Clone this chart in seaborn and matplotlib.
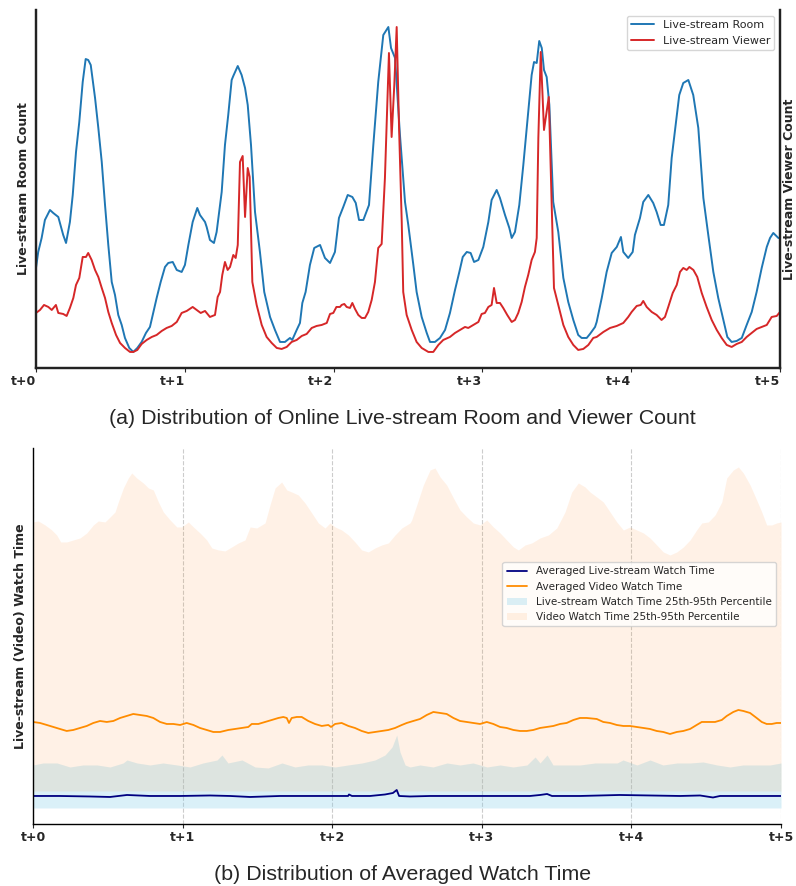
import matplotlib
matplotlib.use("Agg")
import matplotlib.pyplot as plt
import pandas as pd
import seaborn as sns

# ── Data (arbitrary units) ────────────────────────────────────────────────────
tick_pos = [0, 1, 2, 3, 4, 5]
tick_labels = ["t+0", "t+1", "t+2", "t+3", "t+4", "t+5"]

room_t = [0.000, 0.015, 0.038, 0.060, 0.094, 0.116, 0.150, 0.183, 0.202, 0.228,
          0.247, 0.269, 0.291, 0.314, 0.334, 0.351, 0.368, 0.397, 0.419, 0.442,
          0.464, 0.486, 0.509, 0.531, 0.553, 0.576, 0.598, 0.627, 0.654, 0.681,
          0.710, 0.739, 0.766, 0.788, 0.811, 0.838, 0.867, 0.889, 0.919, 0.946,
          0.979, 1.001, 1.024, 1.053, 1.084, 1.102, 1.136, 1.147, 1.169, 1.196,
          1.214, 1.237, 1.248, 1.270, 1.292, 1.315, 1.326, 1.356, 1.382, 1.405,
          1.423, 1.445, 1.472, 1.505, 1.534, 1.573, 1.606, 1.640, 1.673, 1.707,
          1.722, 1.752, 1.774, 1.790, 1.812, 1.841, 1.870, 1.909, 1.942, 1.976,
          2.009, 2.036, 2.065, 2.095, 2.126, 2.149, 2.171, 2.200, 2.238, 2.267,
          2.300, 2.334, 2.368, 2.386, 2.413, 2.446, 2.480, 2.502, 2.536, 2.558,
          2.592, 2.626, 2.648, 2.681, 2.715, 2.749, 2.782, 2.816, 2.845, 2.868,
          2.895, 2.921, 2.944, 2.973, 3.006, 3.040, 3.062, 3.096, 3.118, 3.152,
          3.181, 3.197, 3.219, 3.248, 3.275, 3.308, 3.331, 3.347, 3.365, 3.382,
          3.399, 3.414, 3.432, 3.450, 3.476, 3.510, 3.544, 3.577, 3.611, 3.644,
          3.667, 3.701, 3.723, 3.757, 3.768, 3.802, 3.835, 3.869, 3.903, 3.931,
          3.947, 3.980, 4.010, 4.025, 4.059, 4.081, 4.115, 4.148, 4.171, 4.198,
          4.220, 4.249, 4.272, 4.301, 4.323, 4.350, 4.384, 4.417, 4.451, 4.485,
          4.518, 4.552, 4.585, 4.619, 4.646, 4.675, 4.709, 4.743, 4.776, 4.810,
          4.843, 4.877, 4.911, 4.933, 4.955, 4.989, 5.000]
room_count = [100, 116, 130, 148, 158, 155, 151, 133, 125, 146,
              173, 216, 246, 286, 309, 308, 303, 270, 240, 206,
              163, 123, 86, 73, 53, 43, 30, 20, 16, 20,
              26, 35, 41, 55, 70, 86, 101, 105, 106, 98,
              96, 103, 123, 146, 160, 153, 146, 141, 128, 125,
              136, 163, 176, 223, 253, 288, 292, 302, 293, 280,
              263, 223, 156, 116, 76, 51, 38, 26, 26, 30,
              28, 38, 45, 65, 76, 103, 120, 123, 110, 105,
              116, 150, 161, 173, 171, 165, 148, 148, 163, 223,
              286, 333, 341, 320, 310, 233, 166, 143, 103, 76,
              51, 35, 26, 26, 30, 38, 55, 78, 96, 111,
              116, 115, 106, 108, 121, 146, 168, 178, 170, 153,
              140, 130, 136, 163, 203, 256, 293, 306, 305, 327,
              320, 298, 291, 263, 166, 136, 90, 66, 48, 33,
              30, 30, 34, 41, 46, 70, 96, 115, 121, 131,
              116, 110, 116, 133, 150, 166, 173, 165, 156, 143,
              143, 163, 210, 246, 273, 285, 288, 273, 240, 170,
              133, 96, 70, 48, 31, 26, 27, 30, 43, 56,
              76, 100, 121, 130, 135, 130, 130]

viewer_t = [0.000, 0.027, 0.054, 0.083, 0.106, 0.134, 0.150, 0.183, 0.206, 0.228,
            0.251, 0.269, 0.291, 0.314, 0.336, 0.351, 0.374, 0.397, 0.419, 0.442,
            0.464, 0.486, 0.509, 0.538, 0.565, 0.598, 0.632, 0.654, 0.681, 0.710,
            0.744, 0.778, 0.811, 0.845, 0.878, 0.912, 0.946, 0.979, 1.013, 1.053,
            1.080, 1.107, 1.136, 1.169, 1.203, 1.221, 1.237, 1.252, 1.270, 1.288,
            1.304, 1.326, 1.342, 1.356, 1.371, 1.389, 1.405, 1.423, 1.436, 1.454,
            1.483, 1.517, 1.550, 1.584, 1.618, 1.651, 1.685, 1.718, 1.752, 1.786,
            1.819, 1.853, 1.886, 1.920, 1.954, 1.976, 1.998, 2.019, 2.043, 2.054,
            2.072, 2.088, 2.110, 2.126, 2.144, 2.166, 2.189, 2.211, 2.233, 2.256,
            2.278, 2.300, 2.323, 2.345, 2.361, 2.372, 2.390, 2.408, 2.424, 2.440,
            2.458, 2.468, 2.491, 2.525, 2.558, 2.592, 2.637, 2.670, 2.704, 2.737,
            2.782, 2.816, 2.849, 2.883, 2.905, 2.939, 2.973, 2.995, 3.017, 3.040,
            3.062, 3.078, 3.096, 3.118, 3.140, 3.167, 3.197, 3.219, 3.241, 3.264,
            3.286, 3.308, 3.331, 3.353, 3.365, 3.376, 3.392, 3.414, 3.446, 3.466,
            3.481, 3.510, 3.544, 3.577, 3.611, 3.644, 3.678, 3.712, 3.745, 3.768,
            3.813, 3.858, 3.903, 3.947, 3.980, 4.003, 4.037, 4.064, 4.081, 4.104,
            4.138, 4.171, 4.204, 4.227, 4.249, 4.279, 4.306, 4.328, 4.350, 4.373,
            4.391, 4.418, 4.444, 4.474, 4.507, 4.541, 4.575, 4.608, 4.642, 4.675,
            4.709, 4.743, 4.776, 4.810, 4.843, 4.877, 4.911, 4.944, 4.978, 5.000]
viewer_count = [55, 58, 63, 61, 58, 63, 55, 54, 52, 60,
                70, 83, 90, 111, 111, 115, 108, 98, 91, 80,
                70, 56, 45, 33, 25, 20, 16, 16, 18, 24,
                28, 31, 33, 37, 40, 42, 46, 55, 57, 61,
                58, 55, 57, 51, 53, 71, 76, 93, 106, 98,
                101, 113, 110, 123, 206, 212, 151, 200, 191, 86,
                63, 43, 31, 25, 20, 19, 21, 26, 28, 32,
                34, 40, 42, 43, 45, 54, 55, 61, 61, 63,
                64, 61, 60, 65, 59, 53, 50, 50, 56, 68,
                86, 120, 124, 190, 263, 315, 231, 283, 341, 240,
                146, 76, 53, 38, 26, 20, 16, 16, 23, 28,
                31, 35, 38, 41, 40, 43, 46, 54, 55, 61,
                63, 80, 65, 65, 60, 53, 46, 48, 55, 66,
                81, 93, 108, 116, 130, 230, 316, 238, 271, 163,
                80, 63, 43, 31, 23, 18, 19, 23, 30, 31,
                36, 40, 42, 45, 51, 56, 62, 63, 67, 61,
                56, 53, 48, 51, 61, 75, 83, 96, 100, 98,
                101, 98, 91, 75, 61, 48, 38, 30, 23, 21,
                24, 26, 31, 35, 39, 41, 43, 51, 52, 56]

# watch time panel
video_band_t = [0.000, 0.035, 0.080, 0.125, 0.158, 0.185, 0.225, 0.269, 0.314, 0.359,
                0.403, 0.436, 0.481, 0.515, 0.548, 0.570, 0.604, 0.637, 0.660, 0.693,
                0.737, 0.771, 0.804, 0.838, 0.871, 0.916, 0.961, 0.994, 1.038, 1.072,
                1.116, 1.161, 1.195, 1.239, 1.283, 1.328, 1.372, 1.417, 1.451, 1.495,
                1.551, 1.584, 1.618, 1.662, 1.696, 1.729, 1.773, 1.818, 1.863, 1.907,
                1.952, 1.985, 2.019, 2.063, 2.108, 2.152, 2.197, 2.241, 2.286, 2.331,
                2.375, 2.420, 2.465, 2.520, 2.531, 2.565, 2.609, 2.654, 2.687, 2.721,
                2.765, 2.810, 2.854, 2.899, 2.943, 2.988, 3.033, 3.077, 3.122, 3.166,
                3.211, 3.244, 3.289, 3.334, 3.389, 3.445, 3.501, 3.556, 3.601, 3.645,
                3.690, 3.723, 3.768, 3.812, 3.857, 3.902, 3.946, 3.991, 4.035, 4.080,
                4.124, 4.169, 4.213, 4.258, 4.303, 4.347, 4.392, 4.436, 4.470, 4.514,
                4.559, 4.604, 4.637, 4.681, 4.715, 4.748, 4.793, 4.837, 4.871, 4.904,
                4.938, 4.971, 5.000]
video_p95 = [302, 303, 299, 294, 289, 282, 282, 284, 286, 291,
             299, 303, 302, 307, 312, 322, 336, 346, 351, 346,
             341, 336, 334, 322, 312, 304, 297, 297, 302, 297,
             291, 284, 276, 274, 273, 277, 281, 284, 297, 296,
             301, 319, 336, 342, 334, 332, 329, 321, 311, 301,
             296, 301, 297, 294, 289, 282, 274, 272, 276, 279,
             281, 289, 296, 301, 304, 319, 339, 354, 356, 347,
             339, 326, 314, 307, 301, 299, 304, 297, 291, 284,
             277, 274, 279, 281, 286, 289, 296, 312, 332, 341,
             337, 332, 327, 322, 312, 302, 294, 297, 294, 291,
             286, 279, 272, 269, 272, 277, 284, 294, 301, 302,
             309, 322, 346, 354, 357, 351, 339, 324, 312, 299,
             299, 301, 302]
video_p25 = 33.0

video_avg_t = [0.000, 0.047, 0.092, 0.136, 0.180, 0.225, 0.269, 0.314, 0.359, 0.403,
               0.448, 0.493, 0.537, 0.582, 0.626, 0.670, 0.715, 0.760, 0.804, 0.849,
               0.894, 0.938, 0.983, 1.027, 1.072, 1.116, 1.161, 1.205, 1.250, 1.305,
               1.350, 1.395, 1.439, 1.462, 1.506, 1.551, 1.596, 1.640, 1.673, 1.696,
               1.711, 1.729, 1.763, 1.796, 1.840, 1.885, 1.930, 1.974, 1.992, 2.019,
               2.063, 2.108, 2.152, 2.197, 2.241, 2.286, 2.331, 2.375, 2.420, 2.465,
               2.498, 2.542, 2.587, 2.632, 2.676, 2.721, 2.765, 2.810, 2.854, 2.899,
               2.943, 2.988, 3.033, 3.077, 3.122, 3.166, 3.211, 3.255, 3.300, 3.344,
               3.389, 3.434, 3.478, 3.523, 3.567, 3.612, 3.656, 3.701, 3.768, 3.812,
               3.857, 3.902, 3.946, 3.991, 4.035, 4.080, 4.124, 4.169, 4.213, 4.258,
               4.303, 4.347, 4.392, 4.436, 4.470, 4.514, 4.559, 4.604, 4.637, 4.681,
               4.715, 4.748, 4.793, 4.837, 4.871, 4.904, 4.938, 4.971, 5.000]
video_avg = [102, 101, 99, 97, 95, 93, 94, 96, 98, 101,
             103, 102, 103, 106, 108, 110, 109, 108, 106, 102,
             100, 100, 99, 101, 99, 96, 94, 92, 92, 94,
             95, 96, 97, 100, 100, 102, 104, 106, 107, 106,
             101, 106, 107, 107, 103, 100, 98, 99, 97, 100,
             101, 98, 96, 93, 91, 92, 93, 94, 96, 99,
             101, 103, 105, 109, 112, 111, 110, 106, 103, 102,
             101, 100, 102, 100, 97, 96, 94, 93, 93, 94,
             96, 97, 98, 100, 101, 104, 106, 106, 105, 102,
             101, 99, 98, 98, 97, 96, 95, 93, 92, 90,
             92, 93, 95, 99, 102, 102, 102, 104, 108, 112,
             114, 113, 111, 106, 102, 100, 100, 101, 101]

live_band_t = [0.000, 0.067, 0.160, 0.247, 0.334, 0.428, 0.515, 0.602, 0.628, 0.695,
               0.782, 0.869, 0.963, 1.049, 1.136, 1.230, 1.263, 1.303, 1.397, 1.484,
               1.571, 1.664, 1.751, 1.838, 1.932, 2.019, 2.106, 2.199, 2.286, 2.353,
               2.400, 2.431, 2.453, 2.487, 2.520, 2.587, 2.674, 2.767, 2.854, 2.941,
               3.035, 3.122, 3.209, 3.302, 3.356, 3.389, 3.436, 3.476, 3.570, 3.656,
               3.757, 3.904, 3.944, 4.037, 4.124, 4.211, 4.305, 4.392, 4.479, 4.572,
               4.659, 4.746, 4.840, 4.926, 5.000]
live_p95 = [59, 61, 61, 57, 59, 59, 57, 61, 64, 61,
            59, 61, 59, 57, 61, 64, 69, 61, 64, 57,
            56, 61, 57, 59, 59, 57, 59, 61, 64, 69,
            77, 89, 72, 59, 57, 59, 57, 61, 59, 61,
            57, 59, 57, 59, 67, 61, 69, 59, 59, 59,
            61, 61, 64, 59, 64, 59, 61, 61, 62, 59,
            57, 59, 59, 59, 61]
live_p25 = 16.0

live_avg_t = [0.000, 0.180, 0.381, 0.515, 0.628, 0.782, 0.983, 1.183, 1.317, 1.451,
              1.651, 1.852, 1.985, 2.106, 2.112, 2.132, 2.253, 2.353, 2.406, 2.431,
              2.447, 2.520, 2.654, 2.854, 3.055, 3.322, 3.389, 3.436, 3.469, 3.656,
              3.920, 4.124, 4.325, 4.459, 4.545, 4.592, 4.793, 5.000]
live_avg = [28, 28, 27.5, 27, 29, 28, 28, 28.5, 28, 27,
            28, 28, 28, 28, 29.5, 28, 28, 29.5, 31, 34,
            28, 27.5, 28, 28, 28, 28, 29, 30, 28, 28,
            29, 28.5, 28, 28.5, 26.5, 28, 28, 28]

room_df = pd.DataFrame({"t": room_t, "count": room_count})
viewer_df = pd.DataFrame({"t": viewer_t, "count": viewer_count})
video_df = pd.DataFrame({"t": video_avg_t, "watch": video_avg})
live_df = pd.DataFrame({"t": live_avg_t, "watch": live_avg})

# ── Style ─────────────────────────────────────────────────────────────────────
sns.set_style("white")
plt.rcParams["font.family"] = ["DejaVu Sans"]

fig = plt.figure(figsize=(7.96, 8.86), dpi=100)
ax1 = fig.add_axes([0.0452, 0.5847, 0.9347, 0.4040])
ax2 = ax1.twinx()
ax3 = fig.add_axes([0.0415, 0.0700, 0.9397, 0.4244])

# ── (a) room / viewer counts ──────────────────────────────────────────────────
sns.lineplot(data=room_df, x="t", y="count", ax=ax1, color="#1f77b4",
             lw=1.4, label="Live-stream Room", legend=False)
sns.lineplot(data=viewer_df, x="t", y="count", ax=ax2, color="#d62728",
             lw=1.4, label="Live-stream Viewer", legend=False)

for ax in (ax1, ax2):
    ax.set_xlim(0, 5)
    ax.set_ylim(0, 358)
    ax.set_yticks([])
    ax.spines["top"].set_visible(False)
    for s in ("left", "right", "bottom"):
        ax.spines[s].set_linewidth(1.6)
        ax.spines[s].set_color("#222222")
ax1.set_ylabel("Live-stream Room Count", fontsize=9, fontweight="bold")
ax2.set_ylabel("Live-stream Viewer Count", fontsize=9, fontweight="bold", labelpad=2)
ax1.set_xticks(tick_pos)
ax1.set_xticklabels(tick_labels, fontsize=9, fontweight="bold")
for lab in ax1.get_xticklabels():
    lab.set_ha("right")
ax1.tick_params(axis="x", bottom=True, length=3, width=0.8, pad=2)
ax1.set_xlabel("")
ax2.set_xlabel("")

h1, l1 = ax1.get_legend_handles_labels()
h2, l2 = ax2.get_legend_handles_labels()
ax2.legend(h1 + h2, l1 + l2, loc="upper right", fontsize=8, frameon=True)

# ── (b) watch time ────────────────────────────────────────────────────────────
live_band = ax3.fill_between(live_band_t, live_p25, live_p95, color="skyblue",
                             alpha=0.3, lw=0,
                             label="Live-stream Watch Time 25th-95th Percentile")
video_band = ax3.fill_between(video_band_t, video_p25, video_p95, color="#ff7f0e",
                              alpha=0.1, lw=0,
                              label="Video Watch Time 25th-95th Percentile")
sns.lineplot(data=live_df, x="t", y="watch", ax=ax3, color="navy", lw=1.3,
             label="Averaged Live-stream Watch Time", legend=False)
sns.lineplot(data=video_df, x="t", y="watch", ax=ax3, color="darkorange", lw=1.3,
             label="Averaged Video Watch Time", legend=False)

ax3.set_xlim(0, 5)
ax3.set_ylim(0, 376)
ax3.set_yticks([])
ax3.set_xticks(tick_pos)
ax3.set_xticklabels(tick_labels, fontsize=9, fontweight="bold")
ax3.tick_params(axis="x", bottom=True, length=3, width=0.8, pad=2)
ax3.grid(axis="x", linestyle="--", color="#cccccc", lw=0.8)
ax3.spines["top"].set_visible(False)
ax3.spines["right"].set_visible(False)
for s in ("left", "bottom"):
    ax3.spines[s].set_linewidth(1.0)
    ax3.spines[s].set_color("black")
ax3.set_xlabel("")
ax3.set_ylabel("Live-stream (Video) Watch Time", fontsize=9, fontweight="bold")

lines = ax3.get_lines()
ax3.legend([lines[0], lines[1], live_band, video_band],
           ["Averaged Live-stream Watch Time", "Averaged Video Watch Time",
            "Live-stream Watch Time 25th-95th Percentile",
            "Video Watch Time 25th-95th Percentile"],
           loc="upper right", bbox_to_anchor=(1.0, 0.71), fontsize=7.5, frameon=True)

# ── Captions ──────────────────────────────────────────────────────────────────
fig.text(0.506, 0.528, "(a) Distribution of Online Live-stream Room and Viewer Count",
         ha="center", va="center", fontsize=15.4, family="Liberation Sans")
fig.text(0.506, 0.013, "(b) Distribution of Averaged Watch Time",
         ha="center", va="center", fontsize=15.4, family="Liberation Sans")

fig.savefig("out.png", dpi=100)
